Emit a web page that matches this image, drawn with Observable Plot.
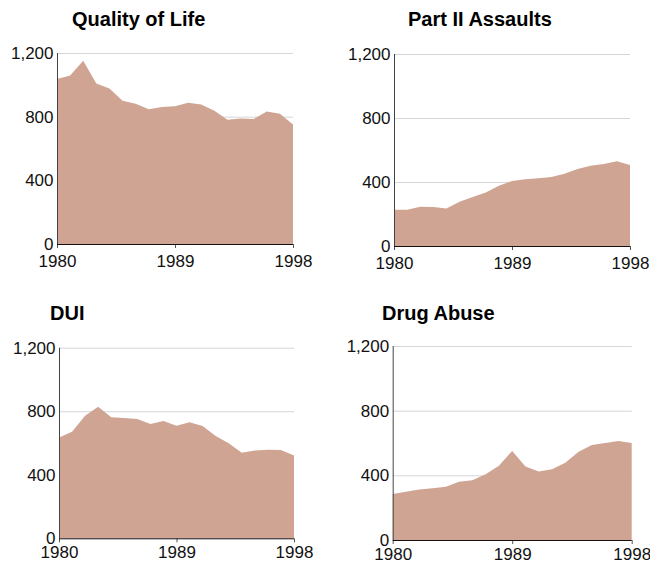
<!DOCTYPE html>
<html>
<head>
<meta charset="utf-8">
<script src="https://cdn.jsdelivr.net/npm/d3@7"></script>
<script src="https://cdn.jsdelivr.net/npm/@observablehq/plot@0.6"></script>
<style>
  html, body { margin: 0; padding: 0; background: #fff; }
  #root { position: relative; width: 650px; height: 565px; overflow: hidden; font-family: "Liberation Sans", Arial, sans-serif; }
  .panel { position: absolute; width: 325px; height: 280px; }
  .panel svg text { font-family: "Liberation Sans", Arial, sans-serif !important; font-size: 17px !important; }
  .title { position: absolute; font-weight: bold; font-size: 20px; line-height: 20px; color: #000; white-space: nowrap; }
</style>
</head>
<body>
<div id="root"></div>
<script>
const years = [1980,1981,1982,1983,1984,1985,1986,1987,1988,1989,1990,1991,1992,1993,1994,1995,1996,1997,1998];
const qualityOfLife = [1036,1059,1152,1009,977,900,881,847,860,866,887,877,837,780,788,786,833,818,751];
const partIIAssaults = [227,227,246,244,235,277,306,335,377,406,417,423,431,452,481,502,512,529,506];
const dui = [634,671,772,829,762,757,751,720,739,709,730,707,644,598,539,552,558,556,522];
const drugAbuse = [285,299,313,320,330,361,369,406,460,551,454,423,437,478,546,588,600,612,600];
const yTicks = [0,400,800,1200];
const xTicks = [1980,1989,1998];
const titles = ["Quality of Life","Part II Assaults","DUI","Drug Abuse"];
const series = [qualityOfLife, partIIAssaults, dui, drugAbuse];

const panels = [
  {left: 0,   top: 0,   mL: 57,   mR: 32,   mT: 53,   mB: 36,   tx: 72,  ty: 9,     pad: 6},
  {left: 325, top: 0,   mL: 69,   mR: 20,   mT: 54,   mB: 34,   tx: 408, ty: 9,     pad: 6},
  {left: 0,   top: 285, mL: 59,   mR: 31,   mT: 62.7, mB: 26.7, tx: 50,  ty: 302.5, pad: 3},
  {left: 325, top: 285, mL: 67.7, mR: 18.3, mT: 61,   mB: 25,   tx: 382, ty: 303,   pad: 3}
];

const root = document.getElementById("root");
panels.forEach((p, i) => {
  const data = years.map((y, j) => ({year: y, value: series[i][j]}));
  const chart = Plot.plot({
    width: 325,
    height: 280,
    marginLeft: p.mL,
    marginRight: p.mR,
    marginTop: p.mT,
    marginBottom: p.mB,
    style: {background: "transparent", fontFamily: "'Liberation Sans', Arial, sans-serif", overflow: "visible", color: "#111"},
    x: {domain: [1980, 1998]},
    y: {domain: [0, 1200]},
    marks: [
      Plot.gridY(yTicks.filter(d => d > 0), {stroke: "#d6d6d6", strokeOpacity: 1}),
      Plot.areaY(data, {x: "year", y: "value", fill: "#cfa493"}),
      Plot.axisY(yTicks, {tickSize: 0, tickPadding: 4, tickFormat: d3.format(","), label: null}),
      Plot.axisX(xTicks, {tickSize: 4, tickPadding: p.pad, tickFormat: d => String(d), label: null, stroke: "#555"}),
      Plot.ruleY([0], {stroke: "#111"}),
      Plot.ruleX([1980], {stroke: "#444"})
    ]
  });
  const div = document.createElement("div");
  div.className = "panel";
  div.style.left = p.left + "px";
  div.style.top = p.top + "px";
  div.appendChild(chart);
  root.appendChild(div);
  const t = document.createElement("div");
  t.className = "title";
  t.style.left = p.tx + "px";
  t.style.top = p.ty + "px";
  t.textContent = titles[i];
  root.appendChild(t);
});
</script>
</body>
</html>
